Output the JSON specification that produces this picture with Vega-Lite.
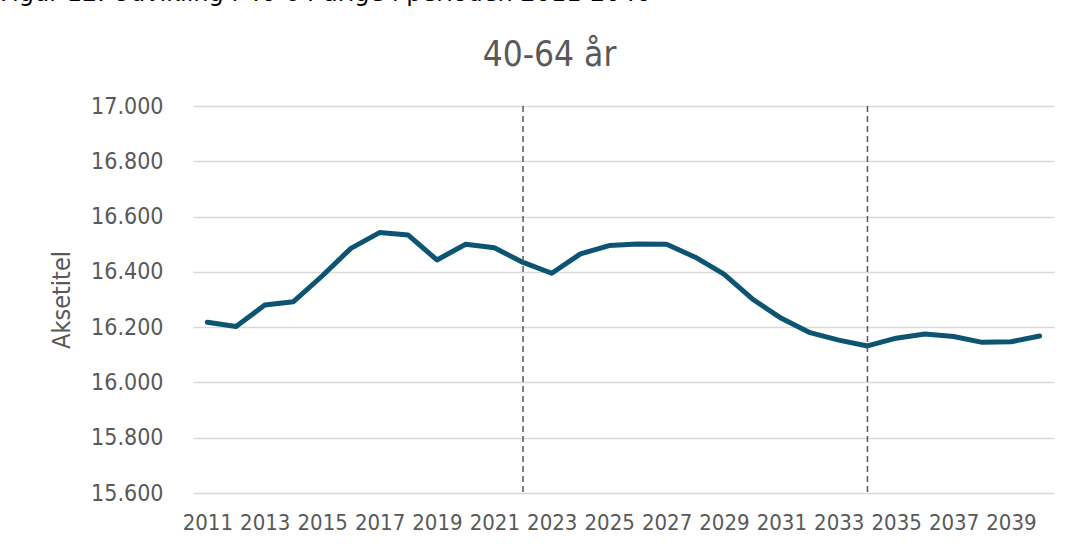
{
  "$schema": "https://vega.github.io/schema/vega-lite/v6.json",
  "width": 861,
  "height": 387,
  "autosize": "none",
  "padding": {"left": 193, "top": 106, "right": 26, "bottom": 54},
  "background": "white",
  "config": {"view": {"stroke": null}, "font": "DejaVu Sans Condensed"},
  "title": {
    "text": "Figur 12. Udvikling i 40-64 årige i perioden 2011-2040",
    "fontSize": 24,
    "font": "DejaVu Sans",
    "fontWeight": "normal",
    "color": "#000000",
    "anchor": "start",
    "frame": "group",
    "dx": -193,
    "baseline": "alphabetic",
    "offset": 12
  },
  "data": {
    "values": [
      {"year": "2011", "value": 16218},
      {"year": "2012", "value": 16202},
      {"year": "2013", "value": 16280},
      {"year": "2014", "value": 16292},
      {"year": "2015", "value": 16385},
      {"year": "2016", "value": 16485},
      {"year": "2017", "value": 16542},
      {"year": "2018", "value": 16533},
      {"year": "2019", "value": 16443},
      {"year": "2020", "value": 16500},
      {"year": "2021", "value": 16487},
      {"year": "2022", "value": 16434},
      {"year": "2023", "value": 16395},
      {"year": "2024", "value": 16465},
      {"year": "2025", "value": 16495},
      {"year": "2026", "value": 16501},
      {"year": "2027", "value": 16500},
      {"year": "2028", "value": 16453},
      {"year": "2029", "value": 16392},
      {"year": "2030", "value": 16301},
      {"year": "2031", "value": 16232},
      {"year": "2032", "value": 16180},
      {"year": "2033", "value": 16153},
      {"year": "2034", "value": 16132},
      {"year": "2035", "value": 16160},
      {"year": "2036", "value": 16175},
      {"year": "2037", "value": 16166},
      {"year": "2038", "value": 16145},
      {"year": "2039", "value": 16147},
      {"year": "2040", "value": 16168}
    ]
  },
  "layer": [
    {
      "mark": {"type": "line", "color": "#0c5471", "strokeWidth": 5, "strokeJoin": "round", "strokeCap": "round"},
      "encoding": {
        "x": {
          "field": "year",
          "type": "ordinal",
          "scale": {"type": "point", "padding": 0.5},
          "axis": {
            "values": ["2011", "2013", "2015", "2017", "2019", "2021", "2023", "2025", "2027", "2029", "2031", "2033", "2035", "2037", "2039"],
            "labelAngle": 0,
            "labelFontSize": 22,
            "labelColor": "#595959",
            "labelFont": "DejaVu Sans Condensed",
            "ticks": false,
            "domain": false,
            "grid": false,
            "labelPadding": 19,
            "labelOverlap": false,
            "title": "40-64 år",
            "titleX": 356,
            "titleY": -428,
            "titleAnchor": "middle",
            "titleAlign": "center",
            "titleAngle": 0,
            "titleBaseline": "alphabetic",
            "titleFont": "DejaVu Sans Condensed",
            "titleFontSize": 35,
            "titleFontWeight": "normal",
            "titleColor": "#595959"
          }
        },
        "y": {
          "field": "value",
          "type": "quantitative",
          "scale": {"domain": [15600, 17000], "nice": false, "zero": false},
          "axis": {
            "values": [15600, 15800, 16000, 16200, 16400, 16600, 16800, 17000],
            "labelExpr": "replace(format(datum.value, ',.0f'), ',', '.')",
            "title": "Aksetitel",
            "titleFont": "DejaVu Sans Condensed",
            "titleFontSize": 25,
            "titleFontWeight": "normal",
            "titleColor": "#595959",
            "titlePadding": 16,
            "labelFont": "DejaVu Sans Condensed",
            "labelFontSize": 23,
            "labelColor": "#595959",
            "labelPadding": 30,
            "ticks": false,
            "domain": false,
            "grid": true,
            "gridColor": "#d9d9d9",
            "gridWidth": 1.5
          }
        }
      }
    },
    {
      "data": {"values": [{"year": "2022"}, {"year": "2034"}]},
      "mark": {"type": "rule", "color": "#595959", "strokeDash": [6, 4], "strokeWidth": 1.5},
      "encoding": {"x": {"field": "year", "type": "ordinal"}}
    }
  ]
}
